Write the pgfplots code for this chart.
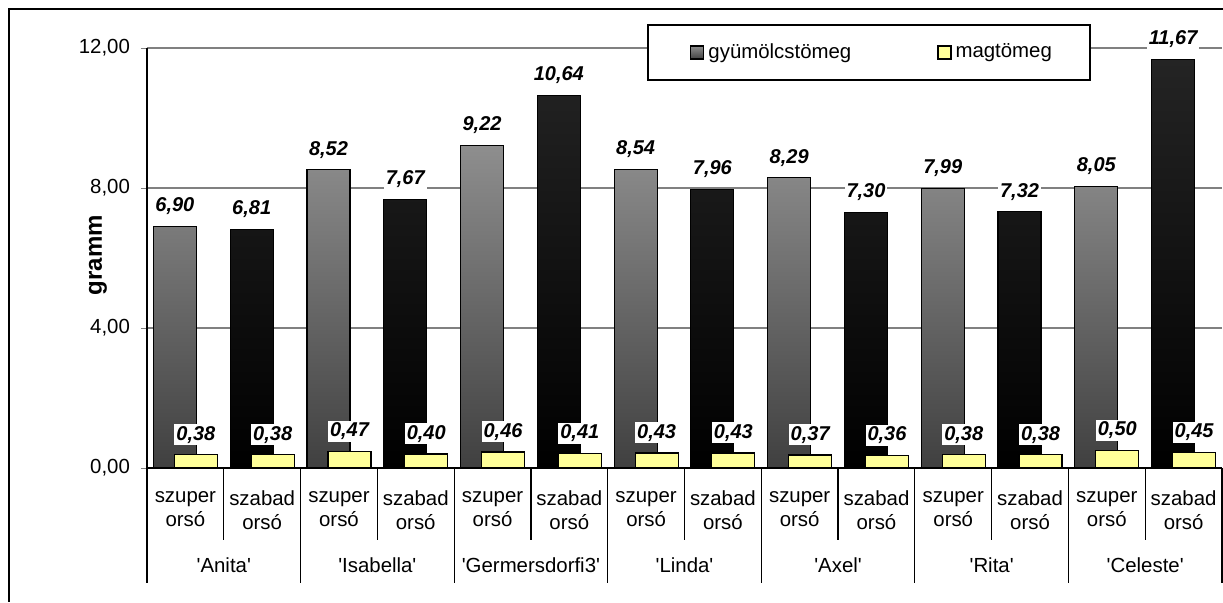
\documentclass[border=0pt]{standalone}
\usepackage{fontspec}
\setmainfont{Liberation Sans}
\usepackage{pgfplots}
\usepackage{pgfplotstable}
\pgfplotsset{compat=1.18}

\definecolor{szuptop}{RGB}{142,142,142}
\definecolor{szupbot}{RGB}{64,64,64}
\definecolor{szabtop}{RGB}{36,36,36}
\definecolor{szabbot}{RGB}{0,0,0}
\definecolor{magcol}{RGB}{255,255,153}
\definecolor{gridcol}{RGB}{128,128,128}

% gyumolcstomeg, szuper orso (even positions)
\pgfplotstableread{
x  y
0  6.90
2  8.52
4  9.22
6  8.54
8  8.29
10 7.99
12 8.05
}\szupertab
% gyumolcstomeg, szabad orso (odd positions)
\pgfplotstableread{
x  y
1  6.81
3  7.67
5  10.64
7  7.96
9  7.30
11 7.32
13 11.67
}\szabadtab
% magtomeg
\pgfplotstableread{
x  y
0  0.38
1  0.38
2  0.47
3  0.40
4  0.46
5  0.41
6  0.43
7  0.43
8  0.37
9  0.36
10 0.38
11 0.38
12 0.50
13 0.45
}\magtab

\newcommand{\q}{\textquotesingle}

\begin{document}
\begin{tikzpicture}[font=\fontsize{10.2}{12}\selectfont]
\begin{axis}[
  scale only axis, width=537.5pt, height=210pt,
  anchor=south west, at={(0,0)},
  xmin=-0.5, xmax=13.5, ymin=0, ymax=12,
  axis x line*=bottom, axis y line*=left,
  axis line style={line width=0.6pt},
  clip=false,
  ybar, bar width=21.5pt,
  ytick={0,4,8,12},
  ymajorgrids, grid style={gridcol, line width=0.6pt},
  tick align=outside, major tick length=3pt,
  /pgf/number format/.cd, fixed, fixed zerofill, precision=2, use comma, assume math mode=true,
  /pgfplots/.cd,
  yticklabel style={xshift=-2pt},
  xtick={0,...,13},
  xticklabels={szuper\\orsó, szabad\\orsó, szuper\\orsó, szabad\\orsó,
    szuper\\orsó, szabad\\orsó, szuper\\orsó, szabad\\orsó,
    szuper\\orsó, szabad\\orsó, szuper\\orsó, szabad\\orsó,
    szuper\\orsó, szabad\\orsó},
  xticklabel style={align=center, yshift=-5pt},
  major x tick style={draw=none},
  nodes near coords,
  every node near coord/.append style={font=\fontsize{10}{12}\selectfont\bfseries\itshape,
    anchor=south, yshift=4.5pt, fill=white, inner sep=1pt},
  legend style={draw=none, fill=none, at={(rel axis cs:0.505,0.9893)}, anchor=west,
    legend columns=2, inner xsep=0pt, inner ysep=0pt,
    /tikz/every even column/.append style={column sep=41pt}},
  legend image code/.code={\draw[#1, line width=0.6pt] (0pt,-3.25pt) rectangle (6.5pt,3.25pt);},
]
\addplot[draw=black, line width=0.6pt, top color=szuptop, bottom color=szupbot,
  bar shift=-5.25pt] table[x=x, y=y] {\szupertab};
\addlegendentry{gyümölcstömeg}
\addplot[draw=black, line width=0.6pt, top color=szabtop, bottom color=szabbot,
  bar shift=-5.25pt, forget plot] table[x=x, y=y] {\szabadtab};
\addplot[draw=black, line width=0.6pt, fill=magcol,
  bar shift=5.25pt] table[x=x, y=y] {\magtab};
\addlegendentry{magtömeg}

% legend frame
\draw[black, line width=0.6pt, fill=white] (rel axis cs:0.46605,0.92381) rectangle (rel axis cs:0.87721,1.05476);

% category separators
\pgfplotsinvokeforeach{0.5,2.5,4.5,6.5,8.5,10.5,12.5}{
  \draw[line width=0.6pt] (axis cs:#1,0) -- ([yshift=-36pt]axis cs:#1,0);
}
\pgfplotsinvokeforeach{-0.5,1.5,3.5,5.5,7.5,9.5,11.5,13.5}{
  \draw[line width=0.6pt] (axis cs:#1,0) -- ([yshift=-57.5pt]axis cs:#1,0);
}
% cultivar names
\node at ([yshift=-48.5pt]axis cs:0.5,0) {\q Anita\q};
\node at ([yshift=-48.5pt]axis cs:2.5,0) {\q Isabella\q};
\node at ([yshift=-48.5pt]axis cs:4.5,0) {\q Germersdorfi3\q};
\node at ([yshift=-48.5pt]axis cs:6.5,0) {\q Linda\q};
\node at ([yshift=-48.5pt]axis cs:8.5,0) {\q Axel\q};
\node at ([yshift=-48.5pt]axis cs:10.5,0) {\q Rita\q};
\node at ([yshift=-48.5pt]axis cs:12.5,0) {\q Celeste\q};
\end{axis}
\node[rotate=90, font=\fontsize{12}{12}\selectfont\bfseries] at (-24.5pt,106.5pt) {gramm};
% outer chart frame (top and left edges visible)
\draw[line width=0.6pt] (538pt,229.5pt) -- (-69pt,229.5pt) -- (-69pt,-67pt);
\pgfresetboundingbox
\path[use as bounding box] (-73.5pt,234pt) rectangle (538pt,-67pt);
\end{tikzpicture}
\end{document}
